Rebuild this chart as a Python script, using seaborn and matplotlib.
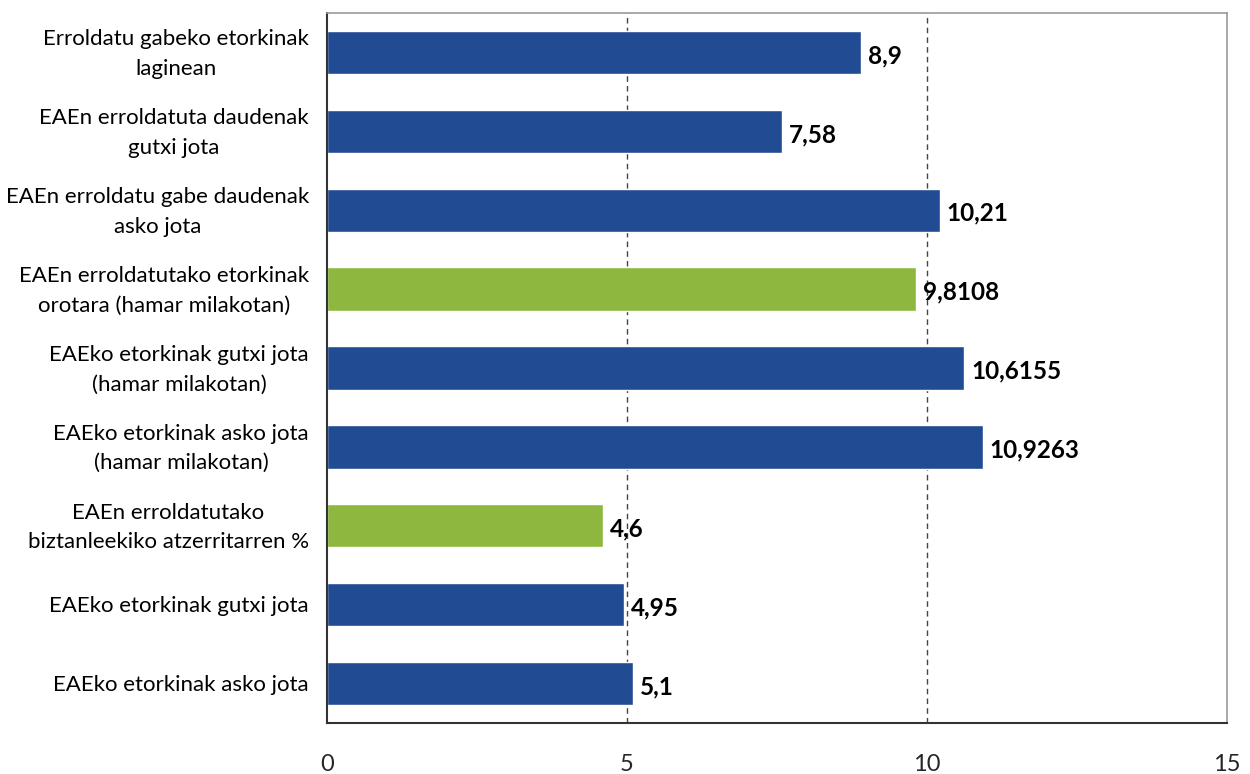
import matplotlib
matplotlib.use("Agg")
import matplotlib.pyplot as plt
import matplotlib.transforms as mtransforms
import seaborn as sns
import pandas as pd
import numpy as np

# data
categories = [
    "Erroldatu gabeko etorkinak\nlaginean",
    "EAEn erroldatuta daudenak\ngutxi jota",
    "EAEn erroldatu gabe daudenak\nasko jota",
    "EAEn erroldatutako etorkinak\norotara (hamar milakotan)",
    "EAEko etorkinak gutxi jota\n(hamar milakotan)",
    "EAEko etorkinak asko jota\n(hamar milakotan)",
    "EAEn erroldatutako\nbiztanleekiko atzerritarren %",
    "EAEko etorkinak gutxi jota",
    "EAEko etorkinak asko jota",
]
values = [8.9, 7.58, 10.21, 9.8108, 10.6155, 10.9263, 4.6, 4.95, 5.1]
value_labels = ["8,9", "7,58", "10,21", "9,8108", "10,6155", "10,9263", "4,6", "4,95", "5,1"]
groups = ["b", "b", "b", "g", "b", "b", "g", "b", "b"]

df = pd.DataFrame({"cat": categories, "val": values, "grp": groups})

sns.set_style("white")
plt.rcParams["font.family"] = ["Lato", "DejaVu Sans"]

fig = plt.figure(figsize=(12.5, 7.74), dpi=100)
ax = fig.add_axes([0.2616, 0.0659, 0.72, 0.9173])

sns.barplot(data=df, x="val", y="cat", hue="grp", dodge=False,
            palette={"b": "#214C94", "g": "#8DB73F"}, width=0.55,
            saturation=1, legend=False, ax=ax, orient="h")

for i, (v, lab) in enumerate(zip(values, value_labels)):
    ax.text(v + 0.12, i + 0.04, lab, va="center", ha="left",
            fontsize=17.5, fontweight="bold", color="black")

# category labels, right edge near the axis, lines centred
trans = mtransforms.blended_transform_factory(ax.transAxes, ax.transData)
for i, cat in enumerate(categories):
    ax.text(-0.02, i + 0.02, cat, transform=trans, ha="right", va="center",
            multialignment="center", fontsize=16, linespacing=1.6,
            color="black")

ax.set_xlim(0, 15)
ax.set_ylim(len(categories) - 0.5, -0.5)
ax.set_xticks([0, 5, 10, 15])
ax.set_xticklabels(["0", "5", "10", "15"], fontsize=17)
ax.tick_params(axis="x", length=4, pad=18, color="#333333", direction="out")
ax.set_yticks(np.arange(len(categories)))
ax.set_yticklabels([])
ax.tick_params(axis="y", which="major", length=0)
ax.set_yticks(np.arange(-0.5, len(categories), 1), minor=True)
ax.tick_params(axis="y", which="minor", length=5, color="#333333", direction="out")
ax.set_xlabel("")
ax.set_ylabel("")

for x in [5, 10]:
    ax.axvline(x, color="#444444", linestyle=(0, (4, 3)), linewidth=1, zorder=0)

ax.spines["left"].set_color("#333333")
ax.spines["bottom"].set_color("#333333")
ax.spines["left"].set_linewidth(1.5)
ax.spines["bottom"].set_linewidth(1.5)
ax.spines["top"].set_color("#999999")
ax.spines["right"].set_color("#999999")
ax.spines["top"].set_linewidth(1.2)
ax.spines["right"].set_linewidth(1.2)

fig.savefig("out.png", dpi=100)
